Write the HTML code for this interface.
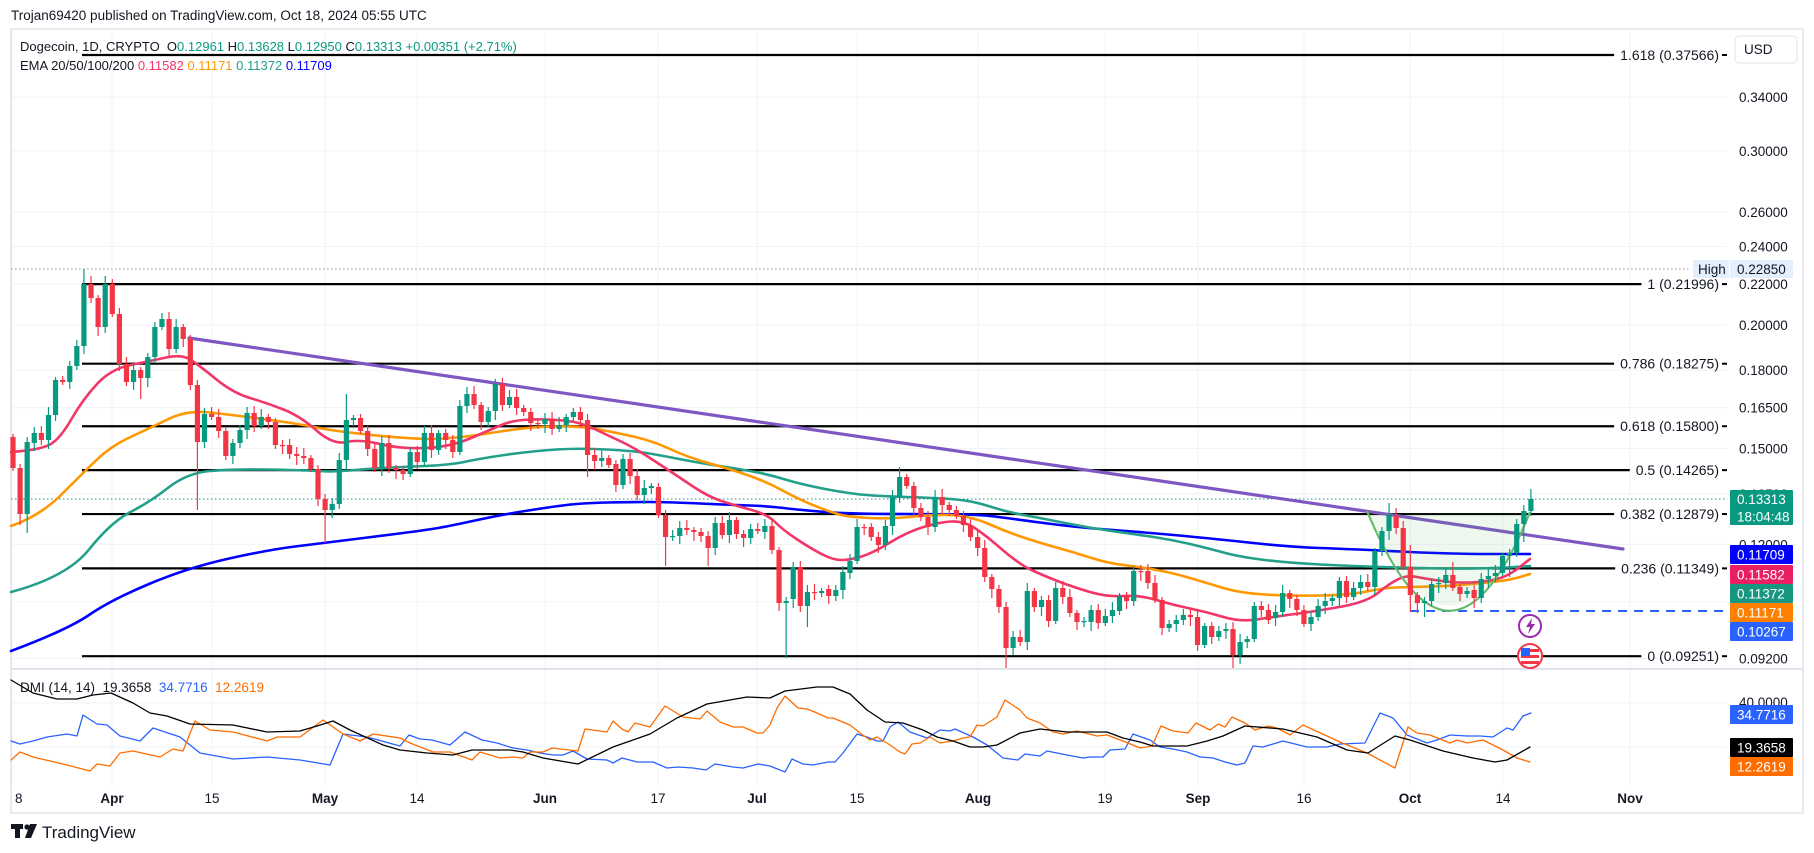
<!DOCTYPE html>
<html><head><meta charset="utf-8"><style>
html,body{margin:0;padding:0;background:#fff;}
svg{display:block;font-family:"Liberation Sans",sans-serif;}
</style></head><body>
<svg id="s" width="1814" height="853" viewBox="0 0 1814 853" xmlns="http://www.w3.org/2000/svg">
<rect width="1814" height="853" fill="#fff"/>
<g id="grid"></g>
<rect x="11" y="29" width="1792" height="784" fill="none" stroke="#e0e3eb" stroke-width="1.5"/>
<line x1="11" y1="669" x2="1803" y2="669" stroke="#e0e3eb" stroke-width="2"/>
<g id="fib"></g>
<g id="ema"></g>
<g id="cup"></g>
<g id="candles"></g>
<g id="dmi"></g>
<g id="axis" font-size="13" fill="#131722"></g>
<g id="labels"></g>
<text x="11" y="20" font-size="13.5" fill="#131722">Trojan69420 published on TradingView.com, Oct 18, 2024 05:55 UTC</text>
<text x="20" y="51" font-size="13" fill="#131722">Dogecoin, 1D, CRYPTO&#160; O<tspan fill="#089981">0.12961</tspan> H<tspan fill="#089981">0.13628</tspan> L<tspan fill="#089981">0.12950</tspan> C<tspan fill="#089981">0.13313</tspan> <tspan fill="#089981">+0.00351 (+2.71%)</tspan></text>
<text x="20" y="70" font-size="13" fill="#131722">EMA 20/50/100/200 <tspan fill="#f23667">0.11582</tspan> <tspan fill="#ff9800">0.11171</tspan> <tspan fill="#22a08a">0.11372</tspan> <tspan fill="#0000ff">0.11709</tspan></text>
<text x="20" y="692" font-size="13.5" fill="#131722">DMI (14, 14)&#160; 19.3658&#160; <tspan fill="#2962ff">34.7716</tspan>&#160; <tspan fill="#ff6d00">12.2619</tspan></text>
<g transform="translate(11,824)">
<rect x="0" y="0" width="12" height="5" fill="#131722"/><rect x="4" y="0" width="5" height="14" fill="#131722"/>
<circle cx="16" cy="3" r="2.6" fill="#131722"/><path d="M19 0 L26 0 L20 14 L14 14 Z" fill="#131722"/>
</g>
<text x="42" y="838" font-size="17" fill="#131722">TradingView</text>
</svg>
<script>
const NS="http://www.w3.org/2000/svg";
function el(p,t,a,txt){const e=document.createElementNS(NS,t);for(const k in a)e.setAttribute(k,a[k]);if(txt!==undefined)e.textContent=txt;document.getElementById(p).appendChild(e);return e;}
const Y=p=>97+(Math.log(0.34)-Math.log(p))*429.6;
[0.34,0.30,0.26,0.24,0.22,0.20,0.18,0.165,0.15,0.135,0.12,0.105,0.092].forEach(p=>{const y=Y(p);el('grid','line',{x1:11,x2:1727,y1:y,y2:y,stroke:'#f0f3fa','stroke-width':1});});
[703,747].forEach(y=>el('grid','line',{x1:11,x2:1727,y1:y,y2:y,stroke:'#f0f3fa'}));
const vx=[12,112,212,325,417,545,658,757,857,978,1105,1198,1304,1410,1503,1630];
vx.forEach(x=>el('grid','line',{x1:x,x2:x,y1:29,y2:785,stroke:'#f0f3fa'}));
const tl=[["8",15,0],["Apr",112,1],["15",212,0],["May",325,1],["14",417,0],["Jun",545,1],["17",658,0],["Jul",757,1],["15",857,0],["Aug",978,1],["19",1105,0],["Sep",1198,1],["16",1304,0],["Oct",1410,1],["14",1503,0],["Nov",1630,1]];
tl.forEach(t=>el('axis','text',{x:t[1],y:803,'text-anchor':t[0]=="8"?'start':'middle','font-weight':t[2]?'bold':'normal','font-size':13.5},t[0]));
[[0.34,"0.34000"],[0.30,"0.30000"],[0.26,"0.26000"],[0.24,"0.24000"],[0.22,"0.22000"],[0.20,"0.20000"],[0.18,"0.18000"],[0.165,"0.16500"],[0.15,"0.15000"],[0.135,"0.13500"],[0.12,"0.12000"],[0.092,"0.09200"]].forEach(a=>el('axis','text',{x:1739,y:Y(a[0])+5,'font-size':13.5},a[1]));
el('axis','text',{x:1739,y:707,'font-size':13.5},"40.0000");
el('fib','line',{x1:11,x2:1690,y1:269,y2:269,stroke:'#9598a1','stroke-dasharray':'1.5 2.5'});
el('fib','line',{x1:11,x2:1727,y1:499,y2:499,stroke:'#089981','stroke-dasharray':'1.5 2.5'});
const fibs=[[0.37566,"1.618 (0.37566)",55],[0.21996,"1 (0.21996)"],[0.18275,"0.786 (0.18275)"],[0.158,"0.618 (0.15800)"],[0.14265,"0.5 (0.14265)"],[0.12879,"0.382 (0.12879)"],[0.11349,"0.236 (0.11349)"],[0.09251,"0 (0.09251)"]];
fibs.forEach(f=>{const y=f[2]||Y(f[0]);const t=el('fib','text',{x:1719,y:y+5,'text-anchor':'end','font-size':14,fill:'#131722'},f[1]);let w=t.getComputedTextLength?t.getComputedTextLength():90;
el('fib','line',{x1:82,x2:1719-w-6,y1:y,y2:y,stroke:'#000','stroke-width':2.2});
el('fib','line',{x1:1722,x2:1727,y1:y,y2:y,stroke:'#000','stroke-width':2});});
el('fib','line',{x1:1410,x2:1727,y1:611,y2:611,stroke:'#2962ff','stroke-width':2,'stroke-dasharray':'9 7'});
el('fib','line',{x1:189,y1:338,x2:1623,y2:549,stroke:'#7e57c2','stroke-width':3.2,'stroke-linecap':'round'});
function pl(g,pts,col,w){el(g,'polyline',{points:pts.map(p=>p.join(',')).join(' '),fill:'none',stroke:col,'stroke-width':w,'stroke-linejoin':'round','stroke-linecap':'round'});}
function sm(g,pts,col,w){let d='M'+pts[0][0]+','+pts[0][1];for(let i=1;i<pts.length-1;i++){const mx=(pts[i][0]+pts[i+1][0])/2,my=(pts[i][1]+pts[i+1][1])/2;d+=' Q'+pts[i][0]+','+pts[i][1]+' '+mx+','+my;}const L=pts[pts.length-1];d+=' L'+L[0]+','+L[1];
el(g,'path',{d:d,fill:'none',stroke:col,'stroke-width':w,'stroke-linecap':'round'});}
const blue=[[11,651],[67,630],[111,600],[187,568],[267,550],[323,543],[420,531],[450,526],[500,515],[550,507],[583,503],[633,502],[667,502],[733,505],[767,506],[800,510],[850,514],[973,514],[1007,518],[1073,527],[1140,532],[1207,538],[1290,547],[1350,549],[1450,554],[1530,554]];
const teal=[[11,592],[67,577],[111,522],[150,502],[187,473],[233,469],[300,470],[333,472],[367,469],[400,467],[450,465],[483,458],[533,451],[580,448],[633,451],[653,454],[700,463],[733,468],[767,474],[800,484],[840,492],[873,496],[940,498],[973,501],[1007,512],[1040,518],[1090,528],[1140,535],[1173,540],[1207,548],[1240,557],[1290,563],[1350,566],[1450,569],[1500,568],[1530,566]];
const orange=[[11,526],[40,516],[83,473],[111,446],[150,428],[187,410],[233,415],[300,424],[333,431],[420,440],[467,437],[527,427],[580,426],[613,432],[653,441],[687,457],[733,470],[767,482],[800,500],[833,513],[850,517],[890,519],[940,514],[973,517],[1007,532],[1040,543],[1073,552],[1107,563],[1140,567],[1173,573],[1207,583],[1240,593],[1290,596],[1350,595],[1383,588],[1410,587],[1450,586],[1483,583],[1510,580],[1530,574]];
const pink=[[11,452],[40,450],[60,439],[83,399],[111,369],[150,361],[182,354],[200,366],[233,393],[267,403],[300,416],[333,445],[360,439],[400,449],[450,447],[490,430],[513,420],[547,419],[580,422],[607,435],[633,447],[673,473],[707,496],[733,505],[767,514],[783,530],[810,548],[833,560],[850,560],[873,553],[907,532],[940,522],[963,521],[983,533],[1020,565],[1047,577],[1073,587],[1107,597],[1140,595],[1173,605],[1207,612],[1240,622],[1273,617],[1317,611],[1367,602],[1390,583],[1407,575],[1427,579],[1457,583],[1483,582],[1507,577],[1530,559]];
sm('ema',blue,'#0000ff',2.6);sm('ema',teal,'#22a08a',2.6);sm('ema',orange,'#ff9800',2.6);sm('ema',pink,'#f23667',2.6);
el('cup','path',{d:'M1367,511 Q1450,700 1530,512 L1530,513 L1367,513 Z',fill:'rgba(76,175,80,0.09)'});
el('cup','path',{d:'M1367,511 Q1450,710 1530,512',fill:'none',stroke:'#66bb6a','stroke-width':2.2});
const C=[[437,468],[468,514,0,525],[514,442,0,533],[443,433],[433,440],[440,415],[415,380],[380,382],[382,366],[366,346],[346,284,269],[284,298],[298,327],[327,284,276],[284,314],[314,364],[364,382],[382,370],[370,378,0,399],[378,357],[357,327],[327,319],[319,349],[349,327],[327,339],[339,385],[385,442,0,510],[442,414],[414,417],[417,431],[431,456],[456,443],[443,430],[430,413],[413,426],[426,417],[417,422],[422,445],[445,446],[445,454],[454,456],[456,458],[458,469],[469,499],[499,510,0,543],[510,504],[504,460],[460,420,394],[420,418],[418,431],[431,449],[449,468],[468,443],[443,468],[468,470],[470,474],[474,452],[452,462],[462,433],[433,450],[450,433],[433,440],[440,452],[452,406],[406,394],[394,405],[405,422],[422,411],[411,384],[384,405],[405,397],[397,408],[408,412],[412,423],[423,424],[424,419],[419,429],[429,425],[425,417],[417,412],[412,420],[420,455,0,477],[455,461],[461,458],[458,465],[464,485],[485,459],[459,476],[476,495],[495,488],[488,486],[487,515],[515,537,0,566],[537,536],[536,528],[528,530],[530,532],[532,536],[536,548,0,566],[548,523],[523,535],[535,520],[520,534],[534,538],[538,529],[529,531],[532,526],[526,550],[550,603],[603,601,0,658],[599,567],[567,606],[606,592,0,627],[592,593],[593,591],[589,596],[596,590],[590,572],[573,561],[561,527],[527,528],[527,537],[537,545],[545,526],[526,497],[497,477,467],[477,486],[486,508],[508,517],[517,527],[527,497],[497,505],[505,510],[510,516],[516,525],[525,537],[537,548],[548,577],[577,589],[589,607],[607,648,0,668],[648,637],[637,642],[642,591],[591,607],[607,600],[600,621],[621,588],[588,597],[597,613],[613,622],[622,621],[622,610],[610,623],[623,616],[616,610],[611,596],[596,601],[601,571],[571,572],[571,583],[583,600],[600,628],[628,624],[624,620],[620,615],[615,617],[617,645],[645,626],[626,637],[637,631],[631,629],[629,655,0,668],[655,642],[642,639],[639,606],[606,610],[610,620],[618,612],[612,593],[593,599],[599,610],[610,624],[624,617],[617,606],[606,601],[601,598],[598,581],[581,597],[597,588],[588,582],[582,587],[587,551],[551,531],[531,515,503],[516,528,508],[528,567],[567,595,545,612],[595,603,0,613],[603,601,0,617],[601,584],[584,583],[583,575],[575,588,562],[587,594],[594,591],[590,598,0,608],[598,579],[579,576],[576,573],[573,556],[556,553,0,577],[553,524],[524,511,0,542],[511,499,489]];
C.forEach((c,i)=>{const x=13+i*7.093;const o=c[0],cl=c[1];const up=cl<=o;const col=up?'#089981':'#f23645';
const top=Math.min(o,cl),bot=Math.max(o,cl);const h=c[2]||top-(3+(i*37)%6);const l=c[3]||bot+(3+(i*53)%7);
el('candles','line',{x1:x,x2:x,y1:h,y2:l,stroke:col,'stroke-width':1.2});
el('candles','rect',{x:x-2.6,y:top,width:5.2,height:Math.max(bot-top,1.2),fill:col});});
const dB=[[11,680],[33,693],[57,699],[77,699],[93,695],[111,693],[133,703],[150,713],[167,716],[190,724],[233,725],[267,732],[300,731],[317,726],[333,721],[350,730],[383,745],[400,750],[427,753],[453,755],[472,750],[510,750],[523,752],[543,758],[578,764],[613,747],[650,734],[677,718],[707,704],[747,697],[770,698],[785,691],[817,687],[833,687],[850,694],[867,710],[885,722],[903,723],[923,730],[937,737],[953,741],[970,747],[983,747],[997,745],[1020,733],[1040,729],[1067,732],[1107,732],[1123,738],[1140,742],[1153,746],[1187,746],[1207,741],[1223,736],[1245,726],[1283,729],[1317,737],[1347,750],[1368,753],[1395,736],[1410,740],[1443,751],[1473,758],[1495,762],[1507,760],[1530,747]];
const dP=[[11,741],[20,744],[33,741],[47,737],[67,734],[77,736],[83,715],[97,724],[107,725],[120,736],[140,741],[153,728],[180,737],[200,753],[233,759],[267,757],[300,760],[330,765],[343,734],[367,737],[400,746],[409,735],[420,739],[432,740],[450,745],[465,732],[482,740],[497,743],[513,748],[527,750],[540,753],[553,755],[563,755],[573,751],[587,759],[607,760],[613,763],[622,758],[637,762],[653,762],[667,768],[678,767],[693,768],[706,770],[715,764],[733,767],[743,768],[758,764],[770,766],[785,772],[792,759],[803,764],[813,765],[828,762],[835,762],[843,753],[857,734],[867,737],[877,741],[883,741],[890,727],[898,722],[910,732],[927,738],[940,730],[950,731],[955,729],[973,737],[987,745],[1003,758],[1018,760],[1025,754],[1040,756],[1047,751],[1067,755],[1083,758],[1090,757],[1103,757],[1110,750],[1125,749],[1133,734],[1150,740],[1160,747],[1173,749],[1187,752],[1200,757],[1213,758],[1225,762],[1237,765],[1245,763],[1253,746],[1263,747],[1283,741],[1307,747],[1327,747],[1340,744],[1365,743],[1380,713],[1393,718],[1407,735],[1427,743],[1437,740],[1450,735],[1467,736],[1480,736],[1493,737],[1507,728],[1513,730],[1523,716],[1531,713]];
const dM=[[11,760],[20,752],[33,757],[67,765],[90,771],[97,764],[110,766],[120,753],[133,751],[160,757],[173,749],[183,751],[195,721],[210,730],[233,732],[267,741],[277,737],[300,737],[323,720],[343,734],[360,741],[373,734],[400,738],[410,743],[433,752],[450,752],[472,760],[480,752],[500,758],[513,757],[523,758],[530,752],[543,752],[552,748],[578,751],[585,729],[607,732],[613,721],[622,729],[628,732],[635,723],[650,727],[665,706],[683,717],[700,719],[707,711],[720,722],[733,727],[743,727],[757,733],[763,733],[770,725],[777,708],[785,696],[798,708],[807,709],[817,713],[828,718],[833,718],[850,725],[860,733],[870,740],[877,737],[890,745],[900,752],[905,754],[912,744],[920,743],[930,737],[940,743],[953,741],[963,738],[970,737],[977,725],[983,726],[997,717],[1005,700],[1020,710],[1027,718],[1040,723],[1053,732],[1063,734],[1077,731],[1097,736],[1107,735],[1123,741],[1140,748],[1152,746],[1161,726],[1173,731],[1188,733],[1196,723],[1210,730],[1218,724],[1225,727],[1232,717],[1245,723],[1255,730],[1268,726],[1277,728],[1290,735],[1303,725],[1340,742],[1367,753],[1395,768],[1408,727],[1417,733],[1430,735],[1450,743],[1457,740],[1467,743],[1483,740],[1503,750],[1517,758],[1530,762]];
pl('dmi',dP,'#2962ff',1.3);pl('dmi',dM,'#ff6d00',1.3);pl('dmi',dB,'#000',1.3);
function box(y1,y2,fill,lines,tc){el('labels','rect',{x:1730,y:y1,width:63,height:y2-y1,fill:fill,rx:1});
const n=lines.length;lines.forEach((t,k)=>el('labels','text',{x:1737,y:y1+(y2-y1)*(k+0.5)/n+5,'font-size':13.5,fill:tc||'#fff'},t));}
box(490,525,'#089981',["0.13313","18:04:48"]);
box(545,564,'#0000ff',["0.11709"]);
box(565,584,'#e91e63',["0.11582"]);
box(584,603,'#17977f',["0.11372"]);
box(603,622,'#ff8000',["0.11171"]);
box(622,641,'#2962ff',["0.10267"]);
box(705,724,'#2962ff',["34.7716"]);
box(738,757,'#000',["19.3658"]);
box(757,776,'#ff6d00',["12.2619"]);
box(260,278,'#e3effd',["0.22850"],'#131722');
el('labels','rect',{x:1693,y:260,width:36,height:18,fill:'#e3effd'});
el('labels','text',{x:1698,y:274,'font-size':13.5,fill:'#131722'},"High");
el('labels','rect',{x:1735,y:36,width:62,height:27,rx:4,fill:'#fff',stroke:'#e0e3eb'});
el('labels','text',{x:1744,y:54,'font-size':13.5,fill:'#131722'},"USD");
el('labels','circle',{cx:1530,cy:626,r:11,fill:'#fff',stroke:'#9c27b0','stroke-width':2});
el('labels','path',{d:'M1532,618 L1526,627 L1530,627 L1528,634 L1535,624 L1531,624 Z',fill:'#9c27b0'});
el('labels','circle',{cx:1530,cy:656,r:12,fill:'#fff',stroke:'#f23645','stroke-width':2});
el('labels','rect',{x:1521,y:649,width:18,height:3,fill:'#f23645'});
el('labels','rect',{x:1521,y:655,width:18,height:3,fill:'#f23645'});
el('labels','rect',{x:1521,y:661,width:18,height:3,fill:'#f23645'});
el('labels','rect',{x:1521,y:648,width:9,height:8,fill:'#2962ff'});
</script>
</body></html>
